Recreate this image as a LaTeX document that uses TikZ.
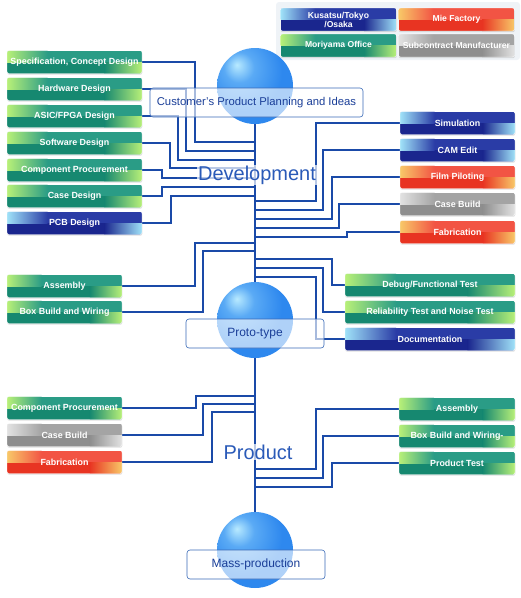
\documentclass[tikz,border=0pt]{standalone}
\usepackage{fontspec}
\setmainfont{Liberation Sans}
\usetikzlibrary{calc,shadows,backgrounds}

\definecolor{linkblue}{HTML}{1A4AA8}
\definecolor{stagetext}{HTML}{2A5AB8}
\definecolor{hubline}{HTML}{3A6AB8}
\definecolor{hubtext}{HTML}{1A3E98}
\definecolor{legendbg}{HTML}{EFF3F7}
\definecolor{grntop}{HTML}{2A9C86}
\definecolor{grnbot}{HTML}{168870}
\definecolor{grnlit}{HTML}{B8F078}
\definecolor{blutop}{HTML}{2A3CA6}
\definecolor{blubot}{HTML}{1A268E}
\definecolor{blulit}{HTML}{A0E2F8}
\definecolor{redtop}{HTML}{F25444}
\definecolor{redbot}{HTML}{E83422}
\definecolor{redlit}{HTML}{F8C868}
\definecolor{gratop}{HTML}{A4A4A4}
\definecolor{grabot}{HTML}{8E8E8E}
\definecolor{gralit}{HTML}{E2E2E2}
\definecolor{sphlight}{HTML}{B8EAFF}
\definecolor{sphmid}{HTML}{5AAAF5}
\definecolor{sphbase}{HTML}{2E88EE}
\definecolor{sphrim}{HTML}{6CB8F7}

\pgfdeclareradialshading{sphere}{\pgfpoint{-12bp}{14bp}}{%
  color(0bp)=(sphlight); color(10bp)=(sphmid); color(26bp)=(sphbase);
  color(40bp)=(sphbase); color(58bp)=(sphrim); color(80bp)=(sphrim)}

\tikzset{
  tag/.style n args={3}{rounded corners=2pt, draw=white, line width=0.4pt,
    text=white, font=\bfseries\fontsize{8.9}{10}\selectfont,
    minimum height=23pt, inner sep=0.5pt,
    drop shadow={opacity=0.25,shadow xshift=0.3pt,shadow yshift=-1.2pt},
    path picture={
      \coordinate (pp-sw) at (path picture bounding box.south west);
      \coordinate (pp-ne) at (path picture bounding box.north east);
      \coordinate (pp-c) at ($(pp-sw)!0.5!(pp-ne)$);
      \coordinate (pp-a) at ($(pp-sw)!0.3!(pp-ne)$);
      \coordinate (pp-b) at ($(pp-sw)!0.72!(pp-ne)$);
      \fill[#2,sharp corners] (pp-sw) rectangle (pp-ne);
      \fill[#1,sharp corners] (pp-sw |- pp-c) rectangle (pp-ne);
      \shade[sharp corners,left color=#3,right color=#1] (pp-sw |- pp-c) rectangle (pp-a |- pp-ne);
      \shade[sharp corners,left color=#2,right color=#3] (pp-b |- pp-sw) rectangle (pp-ne |- pp-c);
    }},
  green/.style={tag={grntop}{grnbot}{grnlit}},
  navy/.style={tag={blutop}{blubot}{blulit}},
  fire/.style={tag={redtop}{redbot}{redlit}},
  silver/.style={tag={gratop}{grabot}{gralit}},
  ball/.style={circle, minimum size=76pt, inner sep=0pt, shade, shading=sphere},
  hub/.style={draw=hubline, line width=0.6pt, fill=white, fill opacity=0.62, text opacity=1,
    rounded corners=3pt, text=hubtext, minimum height=29pt, font=\fontsize{12}{14}\selectfont},
  stage/.style={text=stagetext, fill=white, fill opacity=0.7, text opacity=1, inner sep=1pt},
  link/.style={draw=linkblue, line width=1.1pt},
  legend/.style={font=\bfseries\fontsize{8.6}{9}\selectfont, minimum width=116pt, minimum height=23pt, align=center}
}

\begin{document}
\begin{tikzpicture}[x=1pt,y=-1pt]
\useasboundingbox (0,0) rectangle (521,598);

% legend
\fill[legendbg, rounded corners=3pt] (276,2) rectangle (520,60);
\node[navy, legend] (kusatsu) at (338.5,19.5) {Kusatsu/Tokyo\\/Osaka};
\node[fire, legend] (mie) at (456.5,19.5) {Mie Factory};
\node[green, legend] (moriyama) at (338.5,45.5) {Moriyama Office};
\node[silver, legend] (subcon) at (456.5,45.5) {Subcontract Manufacturer};

% stages
\node[ball] (top) at (255,86) {};
\node[ball] (proto) at (255,320) {};
\node[ball] (mass) at (255,550) {};
\node[hub, minimum width=213pt, font=\fontsize{11.3}{13}\selectfont] (ideas) at (256.5,102.5) {Customer's Product Planning and Ideas};
\node[hub, minimum width=138pt] (protobox) at (255,333.5) {Proto-type};
\node[hub, minimum width=138pt] (massbox) at (256,564.5) {Mass-production};
\node[stage, font=\fontsize{20}{22}\selectfont] (dev) at (257,175) {Development};
\node[stage, font=\fontsize{20}{22}\selectfont] (prod) at (258,452) {Product};

% development
\node[green, minimum width=135pt] (spec) at (74.5,62) {Specification, Concept Design};
\node[green, minimum width=135pt] (hw) at (74.5,89) {Hardware Design};
\node[green, minimum width=135pt] (asic) at (74.5,116) {ASIC/FPGA Design};
\node[green, minimum width=135pt] (sw) at (74.5,143) {Software Design};
\node[green, minimum width=135pt] (comp) at (74.5,170) {Component Procurement};
\node[green, minimum width=135pt] (casedes) at (74.5,196) {Case Design};
\node[navy, minimum width=135pt] (pcb) at (74.5,223) {PCB Design};

\node[navy, minimum width=115pt] (sim) at (457.5,123) {Simulation};
\node[navy, minimum width=115pt] (cam) at (457.5,150) {CAM Edit};
\node[fire, minimum width=115pt] (film) at (457.5,177) {Film Piloting};
\node[silver, minimum width=115pt] (casebld) at (457.5,204) {Case Build};
\node[fire, minimum width=115pt] (fab) at (457.5,232) {Fabrication};

% proto-type
\node[green, minimum width=115pt] (asm) at (64.5,286) {Assembly};
\node[green, minimum width=115pt] (boxw) at (64.5,312) {Box Build and Wiring};
\node[green, minimum width=170pt] (debug) at (430,285) {Debug/Functional Test};
\node[green, minimum width=170pt] (rel) at (430,312) {Reliability Test and Noise Test};
\node[navy, minimum width=170pt] (doc) at (430,339) {Documentation};

% product
\node[green, minimum width=115pt] (pcomp) at (64.5,408) {Component Procurement};
\node[silver, minimum width=115pt] (pcase) at (64.5,435) {Case Build};
\node[fire, minimum width=115pt] (pfab) at (64.5,462) {Fabrication};
\node[green, minimum width=116pt] (pasm) at (457,409) {Assembly};
\node[green, minimum width=116pt] (pbox) at (457,436) {Box Build and Wiring-};
\node[green, minimum width=116pt] (ptest) at (457,463) {Product Test};

\begin{scope}[on background layer]
\draw[link] (top) -- (mass);
\draw[link] (spec.east) -| (195,142) -- (top |- 0,142);
\draw[link] (hw.east) -| (186,151) -- (top |- 0,151);
\draw[link] (asic.east) -| (178,160) -- (top |- 0,160);
\draw[link] (sw.east) -| (170,168) -- (top |- 0,168);
\draw[link] (comp.east) -| (162,178) -- (top |- 0,178);
\draw[link] (casedes.east) -| (162,187) -- (top |- 0,187);
\draw[link] (pcb.east) -| (171,196) -- (top |- 0,196);
\draw[link] (sim.west) -| (316,201) -- (top |- 0,201);
\draw[link] (cam.west) -| (323,210) -- (top |- 0,210);
\draw[link] (film.west) -| (332,219) -- (top |- 0,219);
\draw[link] (casebld.west) -| (339,228) -- (top |- 0,228);
\draw[link] (fab.west) -| (347,237) -- (top |- 0,237);
\draw[link] (asm.east) -| (195,243) -- (top |- 0,243);
\draw[link] (boxw.east) -| (203,251) -- (top |- 0,251);
\draw[link] (debug.west) -| (332,259) -- (top |- 0,259);
\draw[link] (rel.west) -| (323,268) -- (top |- 0,268);
\draw[link] (doc.west) -| (316,277) -- (top |- 0,277);
\draw[link] (pcomp.east) -| (196,396) -- (top |- 0,396);
\draw[link] (pcase.east) -| (203,404) -- (top |- 0,404);
\draw[link] (pfab.east) -| (212,412) -- (top |- 0,412);
\draw[link] (pasm.west) -| (316,469) -- (top |- 0,469);
\draw[link] (pbox.west) -| (323,478) -- (top |- 0,478);
\draw[link] (ptest.west) -| (332,487) -- (top |- 0,487);
\end{scope}
\end{tikzpicture}
\end{document}
